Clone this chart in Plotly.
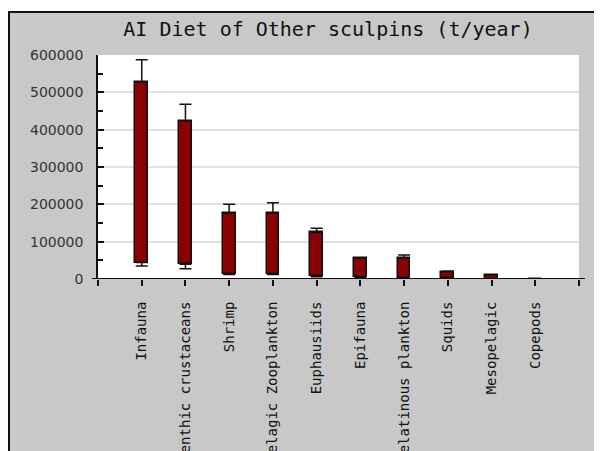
import plotly.graph_objects as go

categories = ["Infauna", "Benthic crustaceans", "Shrimp", "Pelagic Zooplankton",
              "Euphausiids", "Epifauna", "Gelatinous plankton", "Squids",
              "Mesopelagic", "Copepods"]
bar_low = [43900, 39500, 12600, 12600, 7300, 6200, 2000, 1500, 1000, 0]
bar_high = [528000, 424000, 176000, 176000, 124600, 55700, 55700, 19700, 10800, 200]
whisker_low = [35000, 27700, 12000, 12000, 6000, 5000, 1000, 1000, 500, 0]
whisker_high = [587000, 468000, 200000, 204000, 136000, 57000, 64000, 21000, 11000, 300]
y_ticks = [0, 100000, 200000, 300000, 400000, 500000, 600000]

n = len(categories)
xpos = list(range(1, n + 1))
heights = [h - l for h, l in zip(bar_high, bar_low)]
up_err = [w - h for w, h in zip(whisker_high, bar_high)]
down_err = [l - w for l, w in zip(bar_low, whisker_low)]

W, H = 602, 451
L, R, T, B = 90, 31, 47, 180
pw, ph = W - L - R, H - T - B

def px_x(p):
    return (p - L) / pw

def px_y(p):
    return (H - B - p) / ph

fig = go.Figure()
fig.add_trace(go.Bar(
    x=xpos, y=heights, base=bar_low, width=0.29,
    marker=dict(color="#8b0000", line=dict(color="#111111", width=1.5)),
    showlegend=False, hoverinfo="skip"))
fig.add_trace(go.Scatter(
    x=xpos, y=bar_high, mode="markers", marker=dict(opacity=0, size=1),
    error_y=dict(type="data", symmetric=False, array=up_err, arrayminus=[0] * n,
                 color="#111111", thickness=1.5, width=6),
    showlegend=False, hoverinfo="skip"))
fig.add_trace(go.Scatter(
    x=xpos, y=bar_low, mode="markers", marker=dict(opacity=0, size=1),
    error_y=dict(type="data", symmetric=False, array=[0] * n, arrayminus=down_err,
                 color="#111111", thickness=1.5, width=6),
    showlegend=False, hoverinfo="skip"))

shapes = [
    dict(type="rect", xref="paper", yref="paper", x0=px_x(-5), x1=px_x(W + 5),
         y0=px_y(3.5), y1=px_y(-5), fillcolor="white", line=dict(width=0), layer="below"),
    dict(type="line", xref="paper", yref="paper", x0=px_x(0), x1=px_x(W + 5),
         y0=px_y(4), y1=px_y(4), line=dict(color="#111111", width=2), layer="below"),
    dict(type="line", xref="paper", yref="paper", x0=px_x(1), x1=px_x(1),
         y0=px_y(H + 5), y1=px_y(3), line=dict(color="#111111", width=2), layer="below"),
    dict(type="line", xref="paper", yref="y", x0=px_x(L - 6), x1=px_x(W - R + 6),
         y0=0, y1=0, line=dict(color="#111111", width=2), layer="above"),
]

fig.update_layout(
    width=W, height=H,
    margin=dict(l=L, r=R, t=T, b=B, autoexpand=False),
    paper_bgcolor="#c8c8c8", plot_bgcolor="white",
    shapes=shapes,
    title=dict(text="AI Diet of Other sculpins (t/year)", xref="container", yref="container",
               x=320 / W, y=1 - 21 / H, xanchor="center", yanchor="middle",
               font=dict(family="DejaVu Sans Mono", size=20, color="#111111")),
    bargap=0,
)
fig.update_xaxes(
    range=[0, n + 1], tickmode="array", tickvals=list(range(0, n + 2)),
    ticktext=[""] + categories + [""], tickangle=-90,
    ticks="outside", ticklen=6, tickwidth=1.5, tickcolor="#111111",
    showline=False, showgrid=False, zeroline=False, automargin=False,
    tickfont=dict(family="DejaVu Sans Mono", size=14, color="#111111"),
    ticklabelstandoff=10,
)
fig.update_yaxes(
    range=[0, 600000], tickmode="array", tickvals=y_ticks,
    ticktext=[str(v) for v in y_ticks],
    ticks="inside", ticklen=6, tickwidth=1.5, tickcolor="#111111",
    minor=dict(dtick=50000, ticks="inside", ticklen=5, tickwidth=1.5,
               tickcolor="#111111", showgrid=False),
    showline=True, linecolor="#111111", linewidth=1.5,
    showgrid=True, gridcolor="#e2e2e2", gridwidth=1.5, zeroline=False,
    automargin=False,
    tickfont=dict(family="DejaVu Sans", size=14, color="#333333"),
    ticklabelstandoff=10,
)

fig.write_html("out.html")
